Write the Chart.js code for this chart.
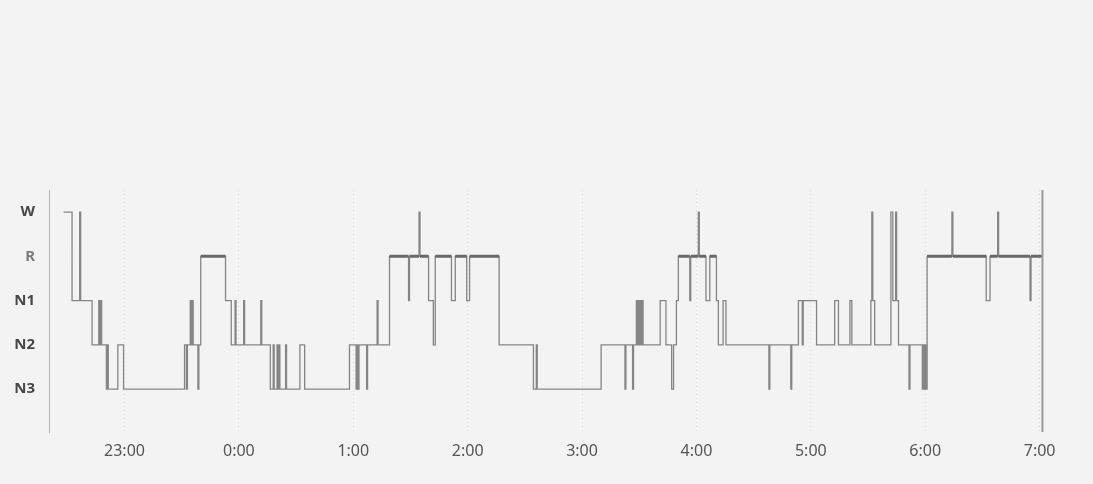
<!DOCTYPE html>
<html>
<head>
<meta charset="utf-8">
<script src="https://cdn.jsdelivr.net/npm/chart.js@4/dist/chart.umd.min.js"></script>
<style>
  html, body { margin: 0; padding: 0; background: #f3f3f3; }
  #wrap { width: 1093px; height: 484px; position: relative; }
</style>
</head>
<body>
<div id="wrap"><canvas id="hypnogram"></canvas></div>
<script>
// Sleep stages, bottom to top (value = index)
const stageLabels = ['N3', 'N2', 'N1', 'R', 'W']

// Stage changes: minutes after 22:00, stage index the record switches to
const stageTimes = [
  28, 32.5, 36.5, 37, 43, 46.5, 47, 47.5, 48, 50.5, 51, 51.5, 56.5, 59.5,
  91.5, 92.5, 93, 94.5, 95, 95.5, 96, 98.5, 99, 100, 113, 116, 118, 118.5,
  122.5, 123, 131.5, 132, 136.5, 138, 138.5, 140, 140.5, 141, 141.5, 144.5, 145,
  152, 154.5, 178, 181.5, 182, 182.5, 183, 187, 187.5, 192.5, 193, 199, 209,
  209.5, 214.5, 215, 219.5, 222, 223, 231.5, 233.5, 239.5, 241, 256.5, 274.5,
  276, 276.5, 310, 322.5, 323, 326.5, 327, 328.5, 329, 329.5, 330, 330.5, 331,
  331.5, 332, 341, 344, 347, 348, 349.5, 350.5, 356.5, 357, 361, 361.5, 365,
  367, 370.5, 371.5, 374, 375.5, 398, 398.5, 409.5, 410, 413.5, 415.5, 416,
  423, 432.5, 434.5, 440.5, 441.5, 451.5, 452, 452.5, 453.5, 462, 463, 464.5,
  465, 466, 471.5, 472, 478.5, 479, 479.5, 480, 480.5, 481, 494, 494.5, 512,
  514, 518, 518.5, 535, 535.5, 541
]
const stageCodes = [
  4, 2, 4, 2, 1, 2, 1, 2, 1, 0, 1, 0, 1, 0,
  1, 0, 1, 2, 1, 2, 1, 0, 1, 3, 2, 1, 2, 1,
  2, 1, 2, 1, 0, 1, 0, 1, 0, 1, 0, 1, 0,
  1, 0, 1, 0, 1, 0, 1, 0, 1, 2, 1, 3, 2,
  3, 4, 3, 2, 1, 3, 2, 3, 2, 3, 1, 0,
  1, 0, 1, 0, 1, 0, 1, 2, 1, 2, 1, 2, 1,
  2, 1, 2, 1, 0, 1, 2, 3, 2, 3, 4, 3, 2,
  3, 2, 1, 2, 1, 0, 1, 0, 1, 2, 1, 2,
  1, 2, 1, 2, 1, 2, 4, 2, 1, 4, 2, 4,
  2, 1, 0, 1, 0, 1, 0, 1, 0, 3, 4, 3, 2,
  3, 4, 3, 2, 3, 3
]

// Hour ticks (minutes after 22:00) and their labels
const hourTicks = [60, 120, 180, 240, 300, 360, 420, 480, 540]
const hourLabels = ['23:00', '0:00', '1:00', '2:00', '3:00', '4:00', '5:00', '6:00', '7:00']

const recordEnd = 541.5

const stepPoints = stageTimes.map((t, i) => ({ x: t, y: stageCodes[i] }))

// REM stretches get a heavier bar on top of the step line
const remPoints = []
for (let i = 0; i < stageTimes.length - 1; i++) {
  if (stageCodes[i] !== 3) continue
  remPoints.push({ x: stageTimes[i], y: 3 }, { x: stageTimes[i + 1], y: 3 }, { x: stageTimes[i + 1], y: null })
}

const endPoints = [{ x: recordEnd, y: -0.97 }, { x: recordEnd, y: 4.5 }]

const fontFamily = "'Noto Sans', 'Open Sans', sans-serif"

new Chart(document.getElementById('hypnogram'), {
  type: 'line',
  data: {
    datasets: [
      { data: remPoints, borderColor: '#6e6569', borderWidth: 3, pointRadius: 0, spanGaps: false, borderCapStyle: 'butt' },
      { data: stepPoints, stepped: true, borderColor: '#858585', borderWidth: 1.3, pointRadius: 0 },
      { data: endPoints, borderColor: '#9a9a9a', borderWidth: 2, pointRadius: 0 }
    ]
  },
  options: {
    responsive: true,
    maintainAspectRatio: false,
    animation: false,
    devicePixelRatio: 1,
    layout: { padding: { top: 190, right: 33, left: 0, bottom: 0 } },
    plugins: { legend: { display: false }, tooltip: { enabled: false } },
    scales: {
      x: {
        type: 'linear',
        min: 20.4,
        max: 550.7,
        afterBuildTicks: (s) => { s.ticks = hourTicks.map((v) => ({ value: v })) },
        afterFit: (s) => { s.height = 52 },
        ticks: {
          callback: (v) => hourLabels[hourTicks.indexOf(v)],
          color: '#555',
          font: { family: fontFamily, size: 16 },
          padding: 10,
          autoSkip: false,
          maxRotation: 0
        },
        grid: { color: '#dadada', lineWidth: 1, drawTicks: false },
        border: { display: false, dash: [1, 3] }
      },
      y: {
        type: 'linear',
        min: -0.97,
        max: 4.5,
        afterBuildTicks: (s) => { s.ticks = [0, 1, 2, 3, 4].map((v) => ({ value: v })) },
        afterFit: (s) => { s.width = 49 },
        ticks: {
          callback: (v) => stageLabels[v],
          color: (ctx) => ctx.tick && ctx.tick.value === 3 ? '#85767f' : '#474747',
          font: { family: fontFamily, size: 15, weight: 'bold' },
          padding: 6
        },
        grid: { display: false },
        border: { display: true, color: '#b3b3b3', width: 1, dash: [1, 3] }
      }
    }
  }
})
</script>
</body>
</html>
